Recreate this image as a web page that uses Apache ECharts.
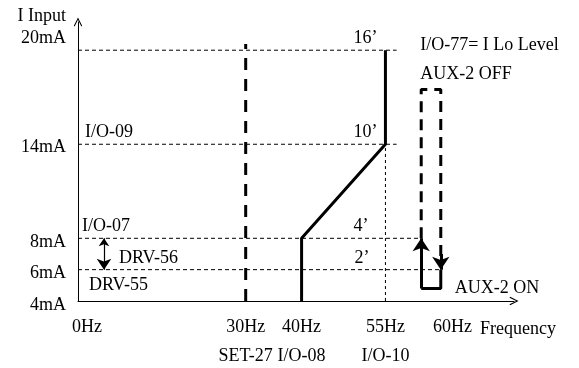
<!DOCTYPE html>
<html>
<head>
<meta charset="utf-8">
<script src="https://cdn.jsdelivr.net/npm/echarts@6/dist/echarts.min.js"></script>
<style>
  html, body { margin: 0; padding: 0; background: #fff; }
  #chart { width: 579px; height: 368px; }
</style>
</head>
<body>
<div id="chart"></div>
<script>
// Axis ticks (Hz / mA) and the parameter codes shown under some frequencies
const freqTicks = [0, 30, 40, 55, 60];
const freqCodes = ['', 'SET-27', 'I/O-08', 'I/O-10', ''];
const currentTicks = [4, 6, 8, 14, 20];

// Frequency-vs-current profile (bold solid trace)
const profileHz = [40, 40, 55, 55];
const profileMA = [4, 8, 14, 20];

// Set frequency marker (bold dashed vertical)
const setHz = 30;
const setSpanMA = [4, 20.4];

// Thin dashed reference levels and where each one stops
const guideMA = [20, 14, 8, 6];
const guideEndHz = [57, 57, 61.4, 64.9];

// Thin dotted drop from the upper corner of the profile
const dropHz = 55;
const dropSpanMA = [4, 14];

// I Lo Level hysteresis loop (AUX-2 output)
const loopHz = [61.4, 64.9];
const loopOffMA = 17.5;
const loopOnMA = 4.8;
const loopUpMA = 8;
const loopDownMA = 6;

// DRV-56 band arrow
const bandHz = 4.65;
const bandMA = [8, 6];

// Annotation texts with the data point each is attached to
const noteTexts = ['16\u2019', '10\u2019', '4\u2019', '2\u2019', 'I/O-09', 'I/O-07', 'DRV-56', 'DRV-55',
  'I/O-77= I Lo Level', 'AUX-2 OFF', 'AUX-2 ON'];
const noteHz = [55, 55, 55, 55, 0, 0, 0, 0, 61.4, 61.4, 64.9];
const noteMA = [20, 14, 8, 6, 14, 8, 7, 5, 17.5, 17.5, 4.8];

// Label placement (pixel offsets from the anchor, alignment)
const noteLayout = [
  { dx: -8, dy: -12, align: 'right' },
  { dx: -8, dy: -12, align: 'right' },
  { dx: -17, dy: -12, align: 'right' },
  { dx: -16, dy: -11, align: 'right' },
  { dx: 7, dy: -12, align: 'left' },
  { dx: 4, dy: -12, align: 'left' },
  { dx: 41, dy: 4, align: 'left' },
  { dx: 11, dy: 0, align: 'left' },
  { dx: -1, dy: -44, align: 'left' },
  { dx: -1, dy: -15, align: 'left' },
  { dx: 14, dy: 0, align: 'left' }
];

// Frequency labels: extra left padding (nudges text right); the last one sits on its own axis
const freqLabelShift = [18, 0, 0, 0, 78];
const farTickCount = 1;
// Current labels: [top, bottom] padding that nudges text down / up
const currentLabelPad = [[8, 0], [8, 0], [8, 0], [6, 0], [0, 24]];

const FONT = 'Liberation Serif';
const FS = 18;
const INK = '#000';
const chevron = 'path://M0,10 L5,0 L10,10 L9,10.8 L5,2.8 L1,10.8 Z';

const zip = (xs, ys) => xs.map((x, i) => [x, ys[i]]);

function plainLine(data, width, type) {
  return {
    type: 'line', data, symbol: 'none', silent: true, animation: false,
    lineStyle: { color: INK, width, type: type || 'solid', cap: 'butt' }, z: 3
  };
}

function arrowLine(coords, width, ends, size) {
  return {
    type: 'lines', coordinateSystem: 'cartesian2d', silent: true, animation: false,
    symbol: ends, symbolSize: size,
    lineStyle: { color: INK, width, opacity: 1, curveness: 0 },
    data: [{ coords }], z: 5
  };
}

const series = [];

// reference levels
guideMA.forEach((v, i) => {
  series.push(plainLine([[0, v], [guideEndHz[i], v]], 1, [4, 3]));
});
// dotted drop at 55 Hz
series.push(plainLine([[dropHz, dropSpanMA[0]], [dropHz, dropSpanMA[1]]], 1, [3, 3]));
// set-frequency marker
series.push(plainLine([[setHz, setSpanMA[0]], [setHz, setSpanMA[1]]], 3, [12, 9]));
// profile
series.push(plainLine(zip(profileHz, profileMA), 3));
// hysteresis: ON part (solid) and OFF part (dashed)
series.push(plainLine([[loopHz[0], loopOnMA], [loopHz[1], loopOnMA], [loopHz[1], loopDownMA]], 3));
series.push(plainLine([[loopHz[0], loopUpMA], [loopHz[0], loopOffMA], [loopHz[1], loopOffMA], [loopHz[1], loopDownMA + 0.6]], 3, [11, 7]));
series.push(arrowLine([[loopHz[0], loopOnMA], [loopHz[0], loopUpMA]], 3, ['none', 'arrow'], [9, 13]));
series.push(arrowLine([[loopHz[1], loopDownMA + 1], [loopHz[1], loopDownMA]], 3, ['none', 'arrow'], [9, 13]));
// DRV-56 band
series.push(arrowLine([[bandHz, bandMA[0]], [bandHz, bandMA[1]]], 1.2, ['arrow', 'arrow'], [8, 11]));

// annotations
series.push({
  type: 'scatter', silent: true, animation: false, symbolSize: 1,
  itemStyle: { color: 'rgba(0,0,0,0)' }, z: 6,
  data: noteTexts.map((t, i) => ({
    value: [noteHz[i], noteMA[i]],
    label: {
      show: true, formatter: t, position: 'inside',
      offset: [noteLayout[i].dx, noteLayout[i].dy],
      align: noteLayout[i].align, verticalAlign: 'middle',
      color: INK, opacity: 1, textBorderWidth: 0, textBorderColor: 'transparent',
      fontFamily: FONT, fontSize: FS
    }
  }))
});

const freqRich = {};
freqLabelShift.forEach((s, i) => {
  freqRich['s' + i] = { padding: [0, 0, 0, s], color: INK, fontFamily: FONT, fontSize: FS, lineHeight: 29 };
});
const currentRich = {};
currentLabelPad.forEach((p, i) => {
  currentRich['c' + i] = { padding: [p[0], 0, p[1], 0], color: INK, fontFamily: FONT, fontSize: FS };
});

function freqFormatter(v) {
  const i = freqTicks.indexOf(v);
  const code = freqCodes[i];
  const head = '{s' + i + '|' + v + 'Hz}';
  return code ? head + '\n{s' + i + '|' + code + '}' : head;
}

const nearTicks = freqTicks.slice(0, freqTicks.length - farTickCount);
const farTicks = freqTicks.slice(freqTicks.length - farTickCount);

const axisLineStyle = { show: true, onZero: false, symbol: ['none', chevron], symbolSize: [9, 9], lineStyle: { color: INK, width: 1 } };

const chart = echarts.init(document.getElementById('chart'), null, { renderer: 'canvas' });
chart.setOption({
  backgroundColor: '#fff',
  animation: false,
  grid: { left: 78, right: 65, top: 22, bottom: 67, outerBoundsMode: 'none' },
  xAxis: [{
    type: 'value', min: 0, max: 78,
    name: 'Frequency', nameLocation: 'end', nameGap: -34,
    nameTextStyle: { color: INK, fontFamily: FONT, fontSize: FS, align: 'left', verticalAlign: 'top', padding: [19, 0, 0, 0] },
    axisLine: axisLineStyle,
    axisTick: { show: false },
    splitLine: { show: false },
    axisLabel: {
      customValues: nearTicks, hideOverlap: false,
      color: INK, fontFamily: FONT, fontSize: FS, lineHeight: 29, margin: 12,
      rich: freqRich, formatter: freqFormatter
    }
  }, {
    type: 'value', min: 0, max: 78, position: 'bottom',
    axisLine: { show: false },
    axisTick: { show: false },
    splitLine: { show: false },
    axisLabel: {
      customValues: farTicks, hideOverlap: false,
      color: INK, fontFamily: FONT, fontSize: FS, lineHeight: 29, margin: 12,
      rich: freqRich, formatter: freqFormatter
    }
  }],
  yAxis: {
    type: 'value', min: 4, max: 21.8,
    name: 'I Input', nameLocation: 'end', nameGap: 6,
    nameTextStyle: { color: INK, fontFamily: FONT, fontSize: FS, align: 'right', verticalAlign: 'middle', padding: [0, 12, 0, 0] },
    axisLine: axisLineStyle,
    axisTick: { show: false },
    splitLine: { show: false },
    axisLabel: {
      customValues: currentTicks, hideOverlap: false,
      color: INK, fontFamily: FONT, fontSize: FS, margin: 12,
      rich: currentRich,
      formatter: (v) => '{c' + currentTicks.indexOf(v) + '|' + v + 'mA}'
    }
  },
  series
});
</script>
</body>
</html>
